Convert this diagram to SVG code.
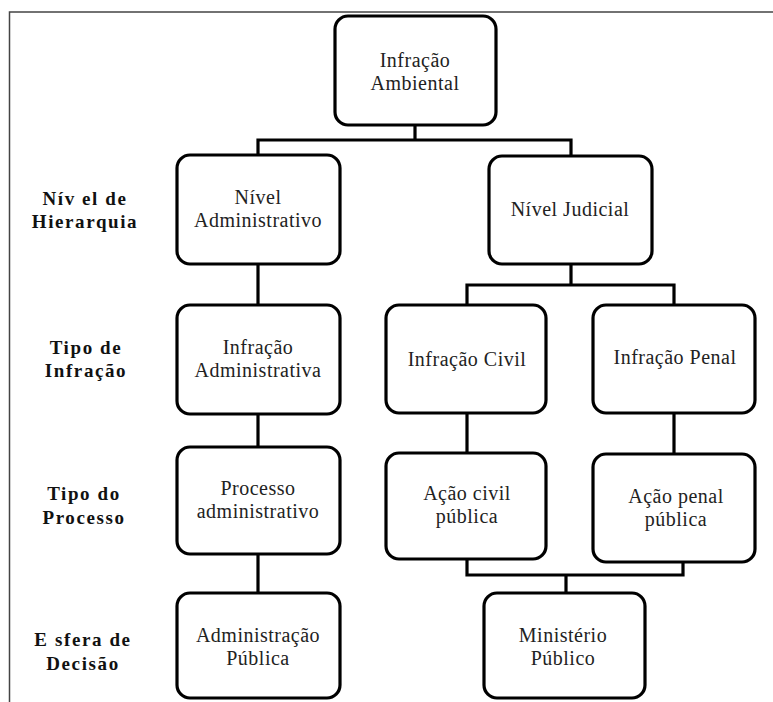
<svg xmlns="http://www.w3.org/2000/svg" width="773" height="702" viewBox="0 0 773 702">
<style>
.box{fill:#fff;stroke:#000;stroke-width:3.2}
.t{font-family:"Liberation Serif","Times New Roman",serif;font-size:20px;fill:#222;text-anchor:middle;letter-spacing:0.5px}
.lbl{font-family:"Liberation Serif","Times New Roman",serif;font-size:19px;font-weight:bold;fill:#111;text-anchor:middle;letter-spacing:1.6px}
.c{fill:none;stroke:#000;stroke-width:3.2}
</style>
<rect x="0" y="0" width="773" height="702" fill="#fff"/>
<path d="M9.5,702 V12 H773" fill="none" stroke="#444" stroke-width="1.5"/>
<g id="connectors">
<path class="c" d="M415,125 V140 M258,155 V140 H571 V155"/>
<path class="c" d="M258,264 V305 M258,414 V447 M258,554 V593"/>
<path class="c" d="M571,264 V285 M467,305 V285 H674 V305"/>
<path class="c" d="M467,413 V453 M674,413 V454"/>
<path class="c" d="M467,559 V575 H683 V562 M566,575 V593"/>
</g>
<g id="infracao-ambiental"><rect class="box" x="335" y="16" width="161" height="109" rx="13"/><text class="t" x="415" y="67">Infração</text><text class="t" x="415" y="90">Ambiental</text></g>
<g id="nivel-administrativo"><rect class="box" x="177" y="155" width="163" height="109" rx="13"/><text class="t" x="258" y="204">Nível</text><text class="t" x="258" y="227">Administrativo</text></g>
<g id="nivel-judicial"><rect class="box" x="489" y="156" width="163" height="108" rx="13"/><text class="t" x="570" y="216">Nível Judicial</text></g>
<g id="infracao-administrativa"><rect class="box" x="177" y="305" width="163" height="109" rx="13"/><text class="t" x="258" y="354">Infração</text><text class="t" x="258" y="377">Administrativa</text></g>
<g id="infracao-civil"><rect class="box" x="386" y="305" width="160" height="108" rx="13"/><text class="t" x="467" y="366">Infração Civil</text></g>
<g id="infracao-penal"><rect class="box" x="593" y="305" width="162" height="108" rx="13"/><text class="t" x="675" y="364">Infração Penal</text></g>
<g id="processo-administrativo"><rect class="box" x="177" y="447" width="163" height="107" rx="13"/><text class="t" x="258" y="495">Processo</text><text class="t" x="258" y="518">administrativo</text></g>
<g id="acao-civil"><rect class="box" x="386" y="453" width="160" height="106" rx="13"/><text class="t" x="467" y="500">Ação civil</text><text class="t" x="467" y="523">pública</text></g>
<g id="acao-penal"><rect class="box" x="593" y="454" width="162" height="108" rx="13"/><text class="t" x="676" y="503">Ação penal</text><text class="t" x="676" y="526">pública</text></g>
<g id="administracao-publica"><rect class="box" x="177" y="593" width="163" height="105" rx="13"/><text class="t" x="258" y="642">Administração</text><text class="t" x="258" y="665">Pública</text></g>
<g id="ministerio-publico"><rect class="box" x="484" y="593" width="161" height="105" rx="13"/><text class="t" x="563" y="642">Ministério</text><text class="t" x="563" y="665">Público</text></g>
<g id="labels">
<text class="lbl" x="85" y="205">Nív el de</text><text class="lbl" x="85" y="228">Hierarquia</text>
<text class="lbl" x="86" y="354">Tipo de</text><text class="lbl" x="86" y="377">Infração</text>
<text class="lbl" x="84" y="500">Tipo do</text><text class="lbl" x="84" y="524">Processo</text>
<text class="lbl" x="83" y="646">E sfera de</text><text class="lbl" x="83" y="670">Decisão</text>
</g>
</svg>
